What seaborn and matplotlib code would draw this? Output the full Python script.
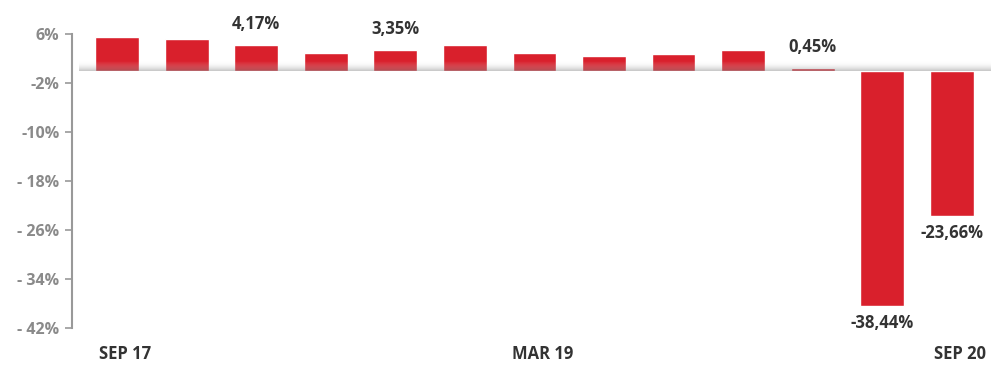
import numpy as np
import pandas as pd
import matplotlib
matplotlib.use("Agg")
import matplotlib.pyplot as plt
import matplotlib.transforms as mtransforms
import seaborn as sns

# Данные (квартальные изменения, %)
quarters = ['SEP 17', 'DEC 17', 'MAR 18', 'JUN 18', 'SEP 18', 'DEC 18', 'MAR 19',
            'JUN 19', 'SEP 19', 'DEC 19', 'MAR 20', 'JUN 20', 'SEP 20']
values = [5.5, 5.25, 4.17, 2.9, 3.35, 4.2, 2.9, 2.4, 2.7, 3.4, 0.45, -38.44, -23.66]
value_labels = {2: '4,17%', 4: '3,35%', 10: '0,45%', 11: '-38,44%', 12: '-23,66%'}
x_ticklabels = {0: 'SEP 17', 6: 'MAR 19', 12: 'SEP 20'}
y_ticks = [6, -2, -10, -18, -26, -34, -42]
y_ticklabels = ['6%', '-2%', '-10%', '- 18%', '- 26%', '- 34%', '- 42%']

df = pd.DataFrame({'quarter': quarters, 'value': values})

sns.set_style("white")
plt.rcParams['font.family'] = ['Open Sans', 'DejaVu Sans']

fig = plt.figure(figsize=(9.93, 3.66), dpi=100)
ax = fig.add_axes([72 / 993, 1 - 328 / 366, (990 - 72) / 993, (328 - 34) / 366])

sns.barplot(data=df, x='quarter', y='value', color='#d9202c', saturation=1,
            width=0.63, ax=ax, zorder=2)

ax.set_ylim(-42, 6)
ax.set_xlim(-0.65, 12.55)

# Тень вдоль нулевой линии
grad = np.linspace(0, 1, 50).reshape(-1, 1)
cmap = matplotlib.colors.LinearSegmentedColormap.from_list(
    'sh', [(0.5, 0.5, 0.5, 0.45), (1, 1, 1, 0.0)])
ax.imshow(grad, extent=(-0.55, 12.55, 0, 1.6), origin='lower', aspect='auto',
          cmap=cmap, zorder=3)
ax.axhspan(-0.25, 0.0, xmin=0.008, xmax=1, color='white', zorder=3, lw=0)

# Подписи значений
for i, txt in value_labels.items():
    v = values[i]
    if v >= 0:
        ax.annotate(txt, (i, v), xytext=(0, 12), textcoords='offset pixels',
                    ha='center', va='bottom', fontsize=12, fontweight='bold',
                    color='#333333', zorder=5, annotation_clip=False)
    else:
        ax.annotate(txt, (i, v), xytext=(0, -8), textcoords='offset pixels',
                    ha='center', va='top', fontsize=12, fontweight='bold',
                    color='#333333', zorder=5, annotation_clip=False)

ax.set_yticks(y_ticks)
ax.set_yticklabels(y_ticklabels, fontsize=11.5, fontweight='bold', color='#8a8a8a')
ax.set_xticks(list(range(len(quarters))))
ax.set_xticklabels([x_ticklabels.get(i, '') for i in range(len(quarters))],
                   fontsize=12, fontweight='bold', color='#333333')
ax.tick_params(axis='y', length=5, width=1.2, color='#999999', pad=4, left=True)
ax.tick_params(axis='x', length=0, pad=12)
# немного сдвигаем подписи оси X вправо
shift = mtransforms.ScaledTranslation(8 / 100, 0, fig.dpi_scale_trans)
for lbl in ax.get_xticklabels():
    lbl.set_transform(lbl.get_transform() + shift)
ax.set_xlabel('')
ax.set_ylabel('')

for s in ['top', 'right', 'bottom']:
    ax.spines[s].set_visible(False)
ax.spines['left'].set_color('#999999')
ax.spines['left'].set_linewidth(1.5)

fig.savefig('out.png', dpi=100)
